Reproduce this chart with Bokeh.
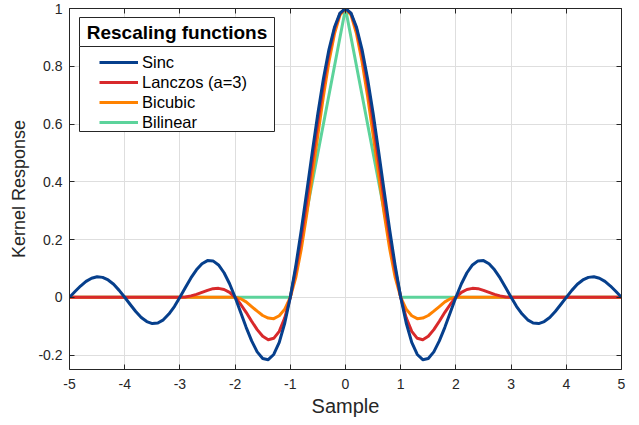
import numpy as np
from bokeh.plotting import figure
from bokeh.models import (LinearAxis, FixedTicker, Legend, LegendItem,
                          BoxAnnotation, Label, Range1d, ColumnDataSource)
from bokeh.embed import file_html
from bokeh.resources import INLINE

# ---------------- data ----------------
x_ticks = [-5, -4, -3, -2, -1, 0, 1, 2, 3, 4, 5]
x_tick_labels = ["-5", "-4", "-3", "-2", "-1", "0", "1", "2", "3", "4", "5"]
y_ticks = [-0.2, 0, 0.2, 0.4, 0.6, 0.8, 1]
y_tick_labels = ["-0.2", "0", "0.2", "0.4", "0.6", "0.8", "1"]

series_names = ["Sinc", "Lanczos (a=3)", "Bicubic", "Bilinear"]

sinc_x = [round(k / 10, 1) for k in range(-50, 51)]
sinc_y = [
    0.000, 0.020, 0.039, 0.055, 0.066, 0.071, 0.069, 0.060, 0.045, 0.024,
    0.000, -0.025, -0.049, -0.070, -0.084, -0.091, -0.089, -0.078, -0.058, -0.032,
    0.000, 0.034, 0.067, 0.095, 0.116, 0.127, 0.126, 0.112, 0.085, 0.047,
    0.000, -0.052, -0.104, -0.151, -0.189, -0.212, -0.216, -0.198, -0.156, -0.089,
    0.000, 0.109, 0.234, 0.368, 0.505, 0.637, 0.757, 0.858, 0.935, 0.984,
    1.000,
    0.984, 0.935, 0.858, 0.757, 0.637, 0.505, 0.368, 0.234, 0.109, 0.000,
    -0.089, -0.156, -0.198, -0.216, -0.212, -0.189, -0.151, -0.104, -0.052, 0.000,
    0.047, 0.085, 0.112, 0.126, 0.127, 0.116, 0.095, 0.067, 0.034, 0.000,
    -0.032, -0.058, -0.078, -0.089, -0.091, -0.084, -0.070, -0.049, -0.025, 0.000,
    0.024, 0.045, 0.060, 0.069, 0.071, 0.066, 0.055, 0.039, 0.020, 0.000,
]

lanczos_x = [-5.0] + [round(k / 10, 1) for k in range(-30, 31)] + [5.0]
lanczos_y = [
    0.000,
    0.000, 0.001, 0.005, 0.010, 0.017, 0.024, 0.030, 0.031, 0.027, 0.017,
    0.000, -0.024, -0.052, -0.083, -0.112, -0.135, -0.147, -0.142, -0.118, -0.071,
    0.000, 0.094, 0.207, 0.336, 0.472, 0.608, 0.735, 0.844, 0.929, 0.982,
    1.000,
    0.982, 0.929, 0.844, 0.735, 0.608, 0.472, 0.336, 0.207, 0.094, 0.000,
    -0.071, -0.118, -0.142, -0.147, -0.135, -0.112, -0.083, -0.052, -0.024, 0.000,
    0.017, 0.027, 0.031, 0.030, 0.024, 0.017, 0.010, 0.005, 0.001, 0.000,
    0.000,
]

bicubic_x = [-5.0] + [round(k / 10, 1) for k in range(-20, 21)] + [5.0]
bicubic_y = [
    0.000,
    0.000, -0.005, -0.016, -0.032, -0.048, -0.063, -0.072, -0.074, -0.064, -0.041,
    0.000, 0.069, 0.168, 0.290, 0.424, 0.563, 0.696, 0.816, 0.912, 0.977,
    1.000,
    0.977, 0.912, 0.816, 0.696, 0.563, 0.424, 0.290, 0.168, 0.069, 0.000,
    -0.041, -0.064, -0.074, -0.072, -0.063, -0.048, -0.032, -0.016, -0.005, 0.000,
    0.000,
]

bilinear_x = [-5.0, -1.0, 0.0, 1.0, 5.0]
bilinear_y = [0.0, 0.0, 1.0, 0.0, 0.0]

colors = {"Sinc": "#063f8c", "Lanczos (a=3)": "#d8292b",
          "Bicubic": "#ff8200", "Bilinear": "#5cd39b"}

FONT = "Liberation Sans"
AX = "#262626"

# ---------------- figure ----------------
p = figure(width=639, height=425, output_backend="svg", toolbar_location=None,
           x_range=Range1d(-5, 5), y_range=Range1d(-0.25, 1),
           x_axis_label="Sample", y_axis_label="Kernel Response",
           min_border_left=69, min_border_right=18,
           min_border_top=8, min_border_bottom=56)
p.outline_line_color = None
p.background_fill_color = "white"
p.border_fill_color = "white"

xt = FixedTicker(ticks=x_ticks)
yt = FixedTicker(ticks=y_ticks)

for ax in p.xaxis:
    ax.ticker = xt
    ax.major_label_overrides = dict(zip(x_ticks, x_tick_labels))
for ax in p.yaxis:
    ax.ticker = yt
    ax.major_label_overrides = dict(zip(y_ticks, y_tick_labels))

for ax in list(p.xaxis) + list(p.yaxis):
    ax.axis_line_color = AX
    ax.axis_line_width = 1
    ax.major_tick_line_color = AX
    ax.major_tick_in = 5
    ax.major_tick_out = 0
    ax.minor_tick_line_color = None
    ax.major_label_text_font = FONT
    ax.major_label_text_font_size = "14px"
    ax.major_label_text_color = AX
    ax.axis_label_text_font = FONT
    ax.axis_label_text_font_style = "normal"
    ax.axis_label_text_color = AX

p.xaxis.axis_label_text_font_size = "20px"
p.yaxis.axis_label_text_font_size = "18px"
p.xaxis.major_label_standoff = 9
p.xaxis.axis_label_standoff = 3
p.yaxis.major_label_standoff = 7
p.yaxis.axis_label_standoff = 6

# top / right axes: ticks only (empty labels)
top = LinearAxis(ticker=xt, major_label_overrides={t: "" for t in x_ticks},
                 major_label_text_font_size="0px", major_label_standoff=0,
                 major_tick_in=5, major_tick_out=0, minor_tick_line_color=None,
                 axis_line_color=AX, major_tick_line_color=AX)
right = LinearAxis(ticker=yt, major_label_overrides={t: "" for t in y_ticks},
                   major_label_text_font_size="0px", major_label_standoff=0,
                   major_tick_in=5, major_tick_out=0, minor_tick_line_color=None,
                   axis_line_color=AX, major_tick_line_color=AX)
p.add_layout(top, "above")
p.add_layout(right, "right")

p.xgrid.ticker = xt
p.ygrid.ticker = yt
p.grid.grid_line_color = "#dedede"
p.grid.grid_line_width = 1

# ---------------- lines (drawn bilinear first, sinc on top) ----------------
data = {
    "Sinc": (sinc_x, sinc_y),
    "Lanczos (a=3)": (lanczos_x, lanczos_y),
    "Bicubic": (bicubic_x, bicubic_y),
    "Bilinear": (bilinear_x, bilinear_y),
}
renderers = {}
for name in reversed(series_names):
    xs, ys = data[name]
    src = ColumnDataSource(dict(x=xs, y=ys))
    renderers[name] = p.line("x", "y", source=src, line_color=colors[name],
                             line_width=3, line_join="round")

# ---------------- legend ----------------
title_box = BoxAnnotation(left=10, right=205, top=352, bottom=323,
                          left_units="screen", right_units="screen",
                          top_units="screen", bottom_units="screen",
                          fill_color="white", fill_alpha=1.0,
                          line_color=AX, line_width=1, line_alpha=1.0)
items_box = BoxAnnotation(left=10, right=205, top=323, bottom=238,
                          left_units="screen", right_units="screen",
                          top_units="screen", bottom_units="screen",
                          fill_color="white", fill_alpha=1.0,
                          line_color=AX, line_width=1, line_alpha=1.0)
p.add_layout(title_box)
p.add_layout(items_box)

title = Label(x=107.5, y=337.5, x_units="screen", y_units="screen",
              text="Rescaling functions", text_font=FONT,
              text_font_size="19px", text_font_style="bold",
              text_color="black", text_align="center", text_baseline="middle")
p.add_layout(title)

legend = Legend(items=[LegendItem(label=n, renderers=[renderers[n]]) for n in series_names],
                location=(30, 237), padding=3, margin=0, spacing=0,
                label_height=20, glyph_height=20, glyph_width=39, label_standoff=4,
                label_text_font=FONT, label_text_font_size="16.5px",
                label_text_color="black",
                background_fill_alpha=0, border_line_color=None)
p.add_layout(legend, "center")

open("out.html", "w").write(file_html(p, INLINE))
